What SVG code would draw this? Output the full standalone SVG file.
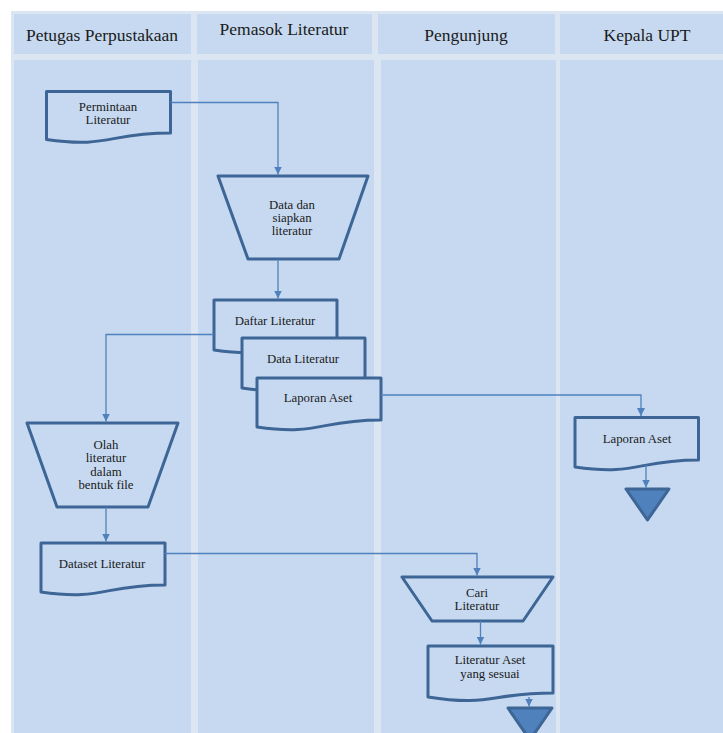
<svg xmlns="http://www.w3.org/2000/svg" width="723" height="733" viewBox="0 0 723 733">
<style>
.band{fill:#dce6f2}
.lane{fill:#c6d9f0}
.shape{fill:#c6d9f0;stroke:#3d6595;stroke-width:3;stroke-linejoin:round}
.end{fill:#4f81bd;stroke:#3d6595;stroke-width:3;stroke-linejoin:round}
.conn{fill:none;stroke:#4f81bd;stroke-width:1.3}
text{font-family:'Liberation Serif',serif;font-size:12.8px;fill:#1b1b1b;text-anchor:middle}
.h{font-size:17.5px}
</style>
<defs>
<marker id="arr" viewBox="0 0 10 10" refX="10" refY="5" markerWidth="8" markerHeight="8" markerUnits="userSpaceOnUse" orient="auto">
<path d="M0,0 L10,5 L0,10 z" fill="#4f81bd"/>
</marker>
</defs>
<rect x="0" y="0" width="723" height="733" fill="#ffffff"/>
<rect class="band" x="11" y="11" width="712" height="722"/>
<g id="lanes">
<rect class="lane" x="14" y="14" width="177" height="40"/>
<rect class="lane" x="197" y="14" width="175" height="40"/>
<rect class="lane" x="378" y="14" width="177" height="40"/>
<rect class="lane" x="560" y="14" width="163" height="40"/>
<rect class="lane" x="14" y="60" width="177" height="673"/>
<rect class="lane" x="198" y="60" width="176" height="673"/>
<rect class="lane" x="381" y="60" width="175" height="673"/>
<rect class="lane" x="560" y="60" width="163" height="673"/>
<text class="h" x="102" y="40.5">Petugas Perpustakaan</text>
<text class="h" x="284" y="34.5">Pemasok Literatur</text>
<text class="h" x="466" y="40.5">Pengunjung</text>
<text class="h" x="647" y="40.5">Kepala UPT</text>
</g>
<g id="permintaan">
<path class="shape" d="M46.5,91.5 H170.5 V133 C108.5,133 108.5,148.5 46.5,139.5 Z"/>
<text x="108" y="110.5">Permintaan</text>
<text x="108" y="124">Literatur</text>
</g>
<g id="siapkan">
<polygon class="shape" points="218,176 368,176 339,259 248,259"/>
<text x="292" y="209">Data dan</text>
<text x="292" y="222">siapkan</text>
<text x="292" y="235">literatur</text>
</g>
<g id="daftar">
<path class="shape" d="M214,300 H337 V343 C275.5,343 275.5,359 214,350 Z"/>
<text x="275" y="325">Daftar Literatur</text>
</g>
<g id="dataliteratur">
<path class="shape" d="M242,338 H365 V381 C303.5,381 303.5,397 242,388 Z"/>
<text x="303" y="363">Data Literatur</text>
</g>
<g id="laporan1">
<path class="shape" d="M257,378 H381 V420 C319,420 319,436 257,427 Z"/>
<text x="318" y="402">Laporan Aset</text>
</g>
<g id="olah">
<polygon class="shape" points="27,423 178,423 148,507 57,507"/>
<text x="106" y="449">Olah</text>
<text x="106" y="462">literatur</text>
<text x="106" y="476">dalam</text>
<text x="106" y="489">bentuk file</text>
</g>
<g id="dataset">
<path class="shape" d="M41,543 H165 V585 C103,585 103,601 41,592 Z"/>
<text x="102" y="567.5">Dataset Literatur</text>
</g>
<g id="cari">
<polygon class="shape" points="402,577 553,577 523,621 432,621"/>
<text x="477" y="596.5">Cari</text>
<text x="477" y="610">Literatur</text>
</g>
<g id="literaturaset">
<path class="shape" d="M428,646 H553 V693 C490.5,693 490.5,707 428,697 Z"/>
<text x="490" y="664">Literatur Aset</text>
<text x="490" y="678">yang sesuai</text>
</g>
<g id="end2">
<polygon class="end" points="508,708 552,708 530,740"/>
</g>
<g id="laporan2">
<path class="shape" d="M575,417.5 H698.5 V460 C637,460 637,476 575,467 Z"/>
<text x="637" y="442.5">Laporan Aset</text>
</g>
<g id="end1">
<polygon class="end" points="626,489 669,489 647.5,520"/>
</g>
<g id="connectors">
<path class="conn" marker-end="url(#arr)" d="M170.5,102.5 H278 V174.5"/>
<path class="conn" marker-end="url(#arr)" d="M278,259 V298.5"/>
<path class="conn" marker-end="url(#arr)" d="M214,334.5 H106 V421.5"/>
<path class="conn" marker-end="url(#arr)" d="M106,507 V541.5"/>
<path class="conn" marker-end="url(#arr)" d="M381,395 H641 V416"/>
<path class="conn" marker-end="url(#arr)" d="M646,465 V487.5"/>
<path class="conn" marker-end="url(#arr)" d="M165,553.5 H477 V575.5"/>
<path class="conn" marker-end="url(#arr)" d="M480.5,621 V644.5"/>
<path class="conn" marker-end="url(#arr)" d="M529,697 V706.5"/>
</g>
</svg>
